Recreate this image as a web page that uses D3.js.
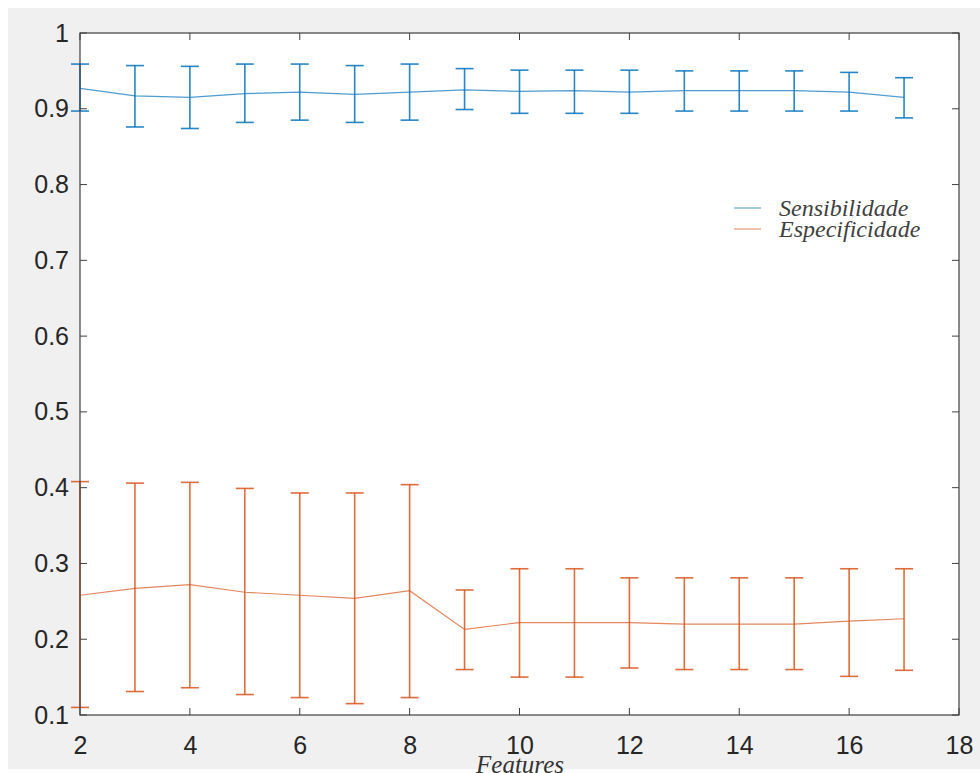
<!DOCTYPE html>
<html>
<head>
<meta charset="utf-8">
<script src="https://cdn.jsdelivr.net/npm/d3@7"></script>
<style>
  html, body { margin: 0; padding: 0; background: #ffffff; }
  svg { display: block; }
</style>
</head>
<body>
<div id="chart"></div>
<script>
var features = [2, 3, 4, 5, 6, 7, 8, 9, 10, 11, 12, 13, 14, 15, 16, 17];

var sensMean  = [0.927, 0.917, 0.915, 0.920, 0.922, 0.919, 0.922, 0.925, 0.923, 0.924, 0.922, 0.924, 0.924, 0.924, 0.922, 0.915];
var sensUpper = [0.959, 0.957, 0.956, 0.959, 0.959, 0.957, 0.959, 0.953, 0.951, 0.951, 0.951, 0.950, 0.950, 0.950, 0.948, 0.941];
var sensLower = [0.897, 0.876, 0.874, 0.882, 0.885, 0.882, 0.885, 0.899, 0.894, 0.894, 0.894, 0.897, 0.897, 0.897, 0.897, 0.888];

var espMean  = [0.258, 0.267, 0.272, 0.262, 0.258, 0.254, 0.264, 0.213, 0.222, 0.222, 0.222, 0.220, 0.220, 0.220, 0.224, 0.227];
var espUpper = [0.408, 0.406, 0.407, 0.399, 0.393, 0.393, 0.404, 0.265, 0.293, 0.293, 0.281, 0.281, 0.281, 0.281, 0.293, 0.293];
var espLower = [0.110, 0.131, 0.136, 0.127, 0.123, 0.115, 0.123, 0.160, 0.150, 0.150, 0.162, 0.160, 0.160, 0.160, 0.151, 0.159];

var xTicks = [2, 4, 6, 8, 10, 12, 14, 16, 18];
var yTicks = [0.1, 0.2, 0.3, 0.4, 0.5, 0.6, 0.7, 0.8, 0.9, 1];
var seriesNames = ['Sensibilidade', 'Especificidade'];
var seriesColors = ['#0072BD', '#D95319'];

var w = 980, h = 773;
var box = { left: 80, top: 33, right: 959, bottom: 715 };

var svg = d3.select('#chart').append('svg')
  .attr('width', w)
  .attr('height', h);

// figure background (gray, white strip top/left/bottom)
svg.append('rect')
  .attr('x', 8).attr('y', 8)
  .attr('width', w - 8).attr('height', 761)
  .attr('fill', '#f0f0f0');

svg.append('rect')
  .attr('x', box.left).attr('y', box.top)
  .attr('width', box.right - box.left).attr('height', box.bottom - box.top)
  .attr('fill', '#ffffff');

var x = d3.scaleLinear().domain([2, 18]).range([box.left, box.right]);
var y = d3.scaleLinear().domain([0.1, 1]).range([box.bottom, box.top]);

var series = [
  { name: seriesNames[0], color: seriesColors[0], mean: sensMean, upper: sensUpper, lower: sensLower },
  { name: seriesNames[1], color: seriesColors[1], mean: espMean, upper: espUpper, lower: espLower }
];

var line = d3.line()
  .x(function(d) { return x(d.x); })
  .y(function(d) { return y(d.v); });

var cap = 9;

series.forEach(function(s) {
  var pts = features.map(function(f, i) {
    return { x: f, v: s.mean[i], up: s.upper[i], lo: s.lower[i] };
  });

  svg.append('path')
    .datum(pts)
    .attr('d', line)
    .attr('fill', 'none')
    .attr('stroke', s.color)
    .attr('stroke-opacity', 0.7)
    .attr('stroke-width', 1.2);

  var g = svg.append('g')
    .attr('stroke', s.color)
    .attr('stroke-opacity', 0.85)
    .attr('stroke-width', 1.6);

  var bars = g.selectAll('g.bar').data(pts).enter().append('g').attr('class', 'bar');
  bars.append('line')
    .attr('x1', function(d) { return x(d.x); })
    .attr('x2', function(d) { return x(d.x); })
    .attr('y1', function(d) { return y(d.up); })
    .attr('y2', function(d) { return y(d.lo); });
  bars.append('line')
    .attr('x1', function(d) { return x(d.x) - cap; })
    .attr('x2', function(d) { return x(d.x) + cap; })
    .attr('y1', function(d) { return y(d.up); })
    .attr('y2', function(d) { return y(d.up); });
  bars.append('line')
    .attr('x1', function(d) { return x(d.x) - cap; })
    .attr('x2', function(d) { return x(d.x) + cap; })
    .attr('y1', function(d) { return y(d.lo); })
    .attr('y2', function(d) { return y(d.lo); });
});

// axes, MATLAB style: box with inward ticks
var axisColor = '#404040';
var tickLen = 7;

var xAxis = d3.axisBottom(x).tickValues(xTicks).tickSize(0).tickPadding(21).tickFormat(d3.format('d'));
var yAxis = d3.axisLeft(y).tickValues(yTicks).tickSize(0).tickPadding(11).tickFormat(function(d) { return d === 1 ? '1' : d3.format('.1f')(d); });

var gx = svg.append('g').attr('transform', 'translate(0,' + box.bottom + ')').call(xAxis);
var gy = svg.append('g').attr('transform', 'translate(' + box.left + ',0)').call(yAxis);

[gx, gy].forEach(function(g) {
  g.select('.domain').remove();
  g.selectAll('text')
    .attr('fill', '#262626')
    .style('font-family', 'Liberation Sans, Arial, sans-serif')
    .style('font-size', '25px');
});

var ticks = svg.append('g').attr('stroke', axisColor).attr('stroke-width', 1);
xTicks.forEach(function(t) {
  ticks.append('line').attr('x1', x(t)).attr('x2', x(t)).attr('y1', box.bottom).attr('y2', box.bottom - tickLen);
  ticks.append('line').attr('x1', x(t)).attr('x2', x(t)).attr('y1', box.top).attr('y2', box.top + tickLen);
});
yTicks.forEach(function(t) {
  ticks.append('line').attr('x1', box.left).attr('x2', box.left + tickLen).attr('y1', y(t)).attr('y2', y(t));
  ticks.append('line').attr('x1', box.right).attr('x2', box.right - tickLen).attr('y1', y(t)).attr('y2', y(t));
});

svg.append('rect')
  .attr('x', box.left).attr('y', box.top)
  .attr('width', box.right - box.left).attr('height', box.bottom - box.top)
  .attr('fill', 'none')
  .attr('stroke', axisColor)
  .attr('stroke-width', 1.2);

// x label (cut at the bottom edge, as in the original)
svg.append('text')
  .attr('x', 520)
  .attr('y', 773)
  .attr('text-anchor', 'middle')
  .attr('fill', '#333333')
  .style('font-family', 'Liberation Serif, Times New Roman, serif')
  .style('font-style', 'italic')
  .style('font-size', '25px')
  .text('Features');

// legend (clipped at bottom like the original)
svg.append('clipPath').attr('id', 'legclip')
  .append('rect').attr('x', 720).attr('y', 190).attr('width', 230).attr('height', 56);

var leg = svg.append('g').attr('clip-path', 'url(#legclip)');
leg.append('rect')
  .attr('x', 720).attr('y', 190).attr('width', 230).attr('height', 56)
  .attr('fill', '#ffffff');

series.forEach(function(s, i) {
  var ly = 208 + i * 21;
  leg.append('line')
    .attr('x1', 734).attr('x2', 761)
    .attr('y1', ly).attr('y2', ly)
    .attr('stroke', s.color)
    .attr('stroke-opacity', 0.6)
    .attr('stroke-width', 1.2);
  leg.append('text')
    .attr('x', 779)
    .attr('y', ly + 8)
    .attr('fill', '#404040')
    .style('font-family', 'Liberation Serif, Times New Roman, serif')
    .style('font-style', 'italic')
    .style('font-size', '24px')
    .text(s.name);
});
</script>
</body>
</html>
